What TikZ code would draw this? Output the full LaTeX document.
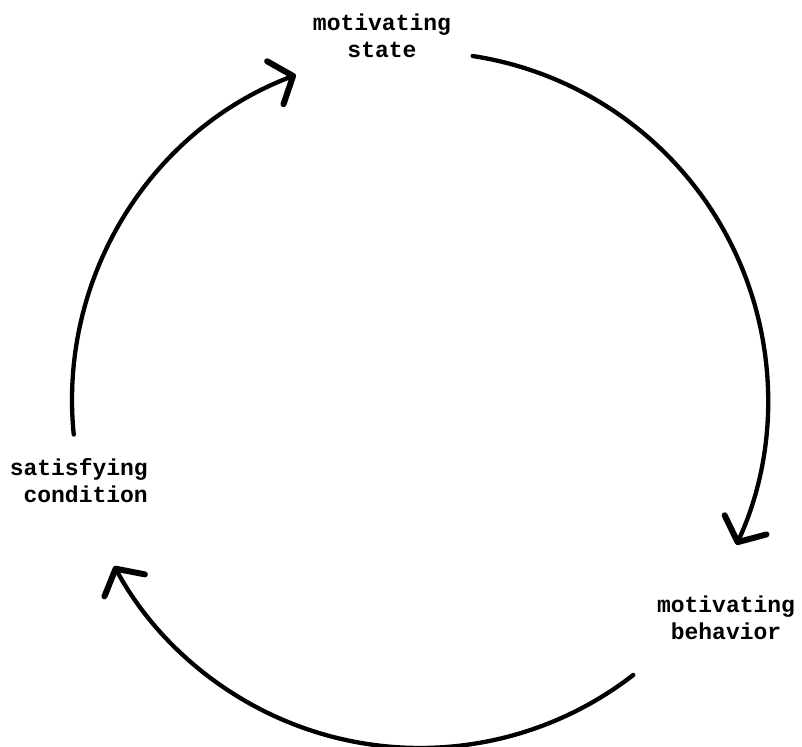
\documentclass[tikz,border=0pt]{standalone}
\usepackage{fontspec}
\setmonofont{Liberation Mono}
\usetikzlibrary{arrows.meta}
\begin{document}
\begin{tikzpicture}[x=1pt,y=1pt,
  lbl/.style={font=\ttfamily\bfseries\fontsize{23}{27}\selectfont, inner sep=0pt},
  cyc/.style={line width=4.3pt, line cap=round,
    -{Straight Barb[length=19pt,width=46pt,line width=6pt,round]}}]
\useasboundingbox (0,0) rectangle (802,746);
\coordinate (c) at (420,346);
\node[lbl, align=center, anchor=base] (ms) at (382,688) {motivating\\state};
\node[lbl, align=right, anchor=base east] (sc) at (148,243) {satisfying\\condition};
\node[lbl, align=center, anchor=base] (mb) at (726,106) {motivating\\behavior};
\path (c) ++(185.7:348) coordinate (a1s);
\path (c) ++(81.3:348) coordinate (a2s);
\path (c) ++(-52.2:348) coordinate (a3s);
\draw[cyc] (a1s) arc[start angle=185.7, end angle=110.9, radius=348];
\draw[cyc] (a2s) arc[start angle=81.3, end angle=-24.6, radius=348];
\draw[cyc] (a3s) arc[start angle=-52.2, end angle=-151.5, radius=348];
\end{tikzpicture}
\end{document}
